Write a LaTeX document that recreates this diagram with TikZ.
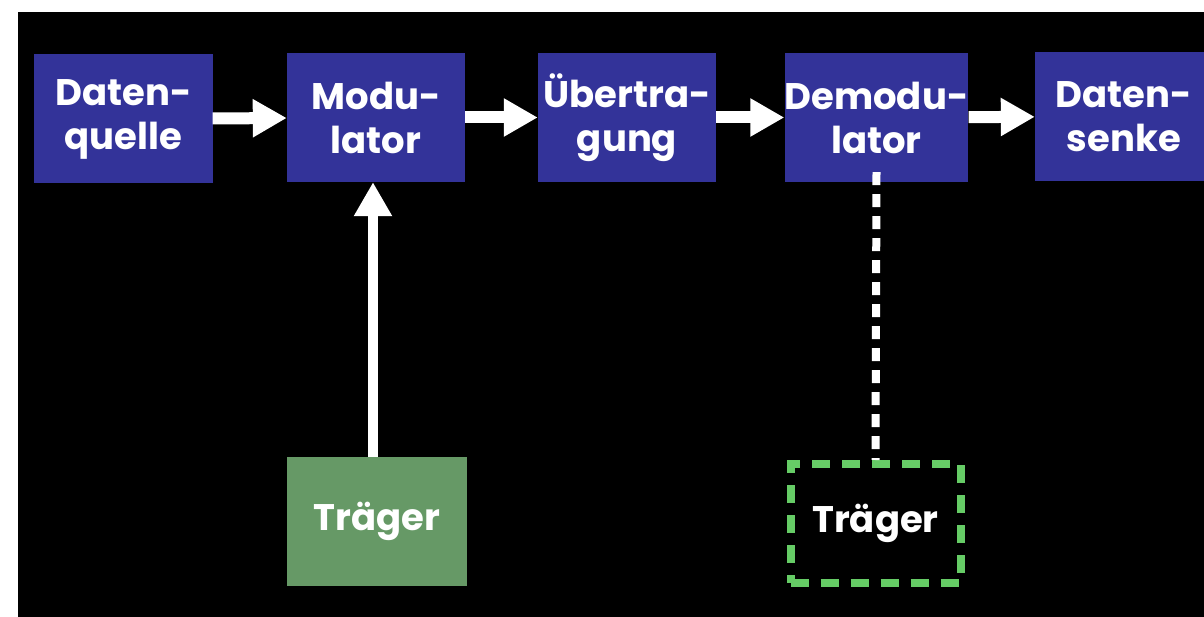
\documentclass[tikz,border=0pt]{standalone}
\usepackage{fontspec}
\setmainfont{Poppins}
\usetikzlibrary{arrows.meta}
\definecolor{boxblue}{HTML}{333399}
\definecolor{carrier}{HTML}{669966}
\definecolor{carrierdash}{HTML}{66CC66}
\tikzset{
  label font/.style={font=\fontsize{37bp}{44bp}\selectfont\bfseries},
  block/.style={fill=boxblue, text=white, inner sep=0pt, align=center,
    minimum width=178bp, minimum height=129bp, label font},
  flow/.style={draw=white, line width=12bp, -{Triangle[width=36bp,length=34bp]}},
  feed/.style={draw=white, line width=10bp, -{Triangle[width=36bp,length=34bp]}},
  carrierbox/.style={fill=carrier, text=white, inner sep=0pt,
    minimum width=180bp, minimum height=129bp, label font},
  localcarrier/.style={draw=carrierdash, line width=8bp, dash pattern=on 18bp off 12bp,
    text=white, inner sep=0pt, minimum width=170bp, minimum height=119bp, label font},
  sync/.style={draw=white, line width=8bp, dash pattern=on 13bp off 9bp}
}
\begin{document}
\begin{tikzpicture}[x=1bp, y=-1bp]
  % canvas
  \fill[white] (0,0) rectangle (1204,617);
  \useasboundingbox (0,0) rectangle (1204,617);
  \fill[black] (18,12) rectangle (1204,617);
  \begin{scope}
  \clip (18,12) rectangle (1204,617);
  % signal chain
  \node[block] (src)   at (123.5,119) {Daten-\\quelle};
  \node[block] (mod)   at (376,117.5) {Modu-\\lator};
  \node[block] (chan)  at (627,117.5) {Übertra-\\gung};
  \node[block] (demod) at (876.5,117.5) {Demodu-\\lator};
  \node[block] (sink)  at (1124,116.5) {Daten-\\senke};
  \draw[flow] (src) -- (mod);
  \draw[flow] (mod) -- (chan);
  \draw[flow] (chan) -- (demod);
  \draw[flow] (demod) -- (sink);
  % carrier at the transmitter
  \node[carrierbox] (tx) at (377,521.5) {Träger};
  \draw[feed] (tx.north -| 373,0) -- (mod.south -| 373,0);
  % recovered carrier at the receiver
  \node[localcarrier] (rx) at (875.5,523.5) {Träger};
  \draw[sync] ([yshift=10bp]demod.south) -- (rx.north);
  \end{scope}
\end{tikzpicture}
\end{document}
